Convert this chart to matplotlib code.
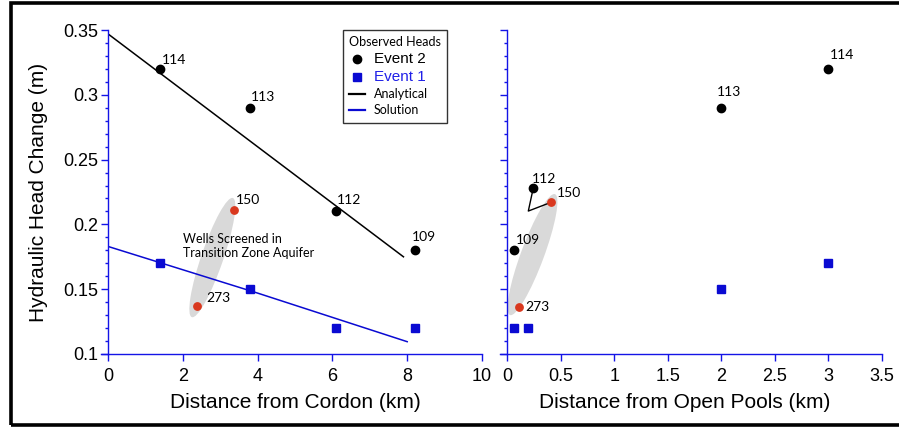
import matplotlib
matplotlib.use("Agg")
import matplotlib.pyplot as plt
from matplotlib.patches import Ellipse, Rectangle
from matplotlib.lines import Line2D
from matplotlib.transforms import ScaledTranslation
from matplotlib.ticker import MultipleLocator, FuncFormatter

# ---------------- data ----------------
wells_e2 = ["114", "113", "112", "109"]
tz_wells = ["150", "273"]

# Distance from Cordon panel
cordon_dist = [1.4, 3.8, 6.1, 8.2]
event2_cordon = [0.32, 0.29, 0.21, 0.18]
event1_cordon = [0.17, 0.15, 0.12, 0.12]
tz_cordon_dist = [3.37, 2.38]
tz_cordon_heads = [0.211, 0.137]
analytic_x = [0, 7.9]
analytic_y = [0.347, 0.175]
solution_x = [0, 4, 8]
solution_y = [0.183, 0.147, 0.1095]

# Distance from Open Pools panel
event2_pools_dist = [3.0, 2.0, 0.245, 0.065]
event2_pools = [0.32, 0.29, 0.228, 0.180]
event1_pools_dist = [3.0, 2.0, 0.2, 0.068]
event1_pools = [0.17, 0.15, 0.12, 0.12]
tz_pools_dist = [0.41, 0.109]
tz_pools_heads = [0.217, 0.1365]
leader_vertex = (0.199, 0.2103)

left_xticks = [0, 2, 4, 6, 8, 10]
right_xticks = [0, 0.5, 1, 1.5, 2, 2.5, 3, 3.5]
yticks = [0.1, 0.15, 0.2, 0.25, 0.3, 0.35]

# ---------------- style ----------------
BLUE_AX = "#1414e6"
BLUE = "#0a0ad2"
RED = "#d9381e"
GRAY = "#d9d9d9"
TICKFONT = "Liberation Sans"
SMALLFONT = "Lato"

W, H = 899, 429
fig = plt.figure(figsize=(W / 100, H / 100), dpi=100)

# figure border (left, top, bottom)
fig.add_artist(Rectangle((10.5 / W, 4 / H), 1.2, 422.5 / H, transform=fig.transFigure,
                         fill=False, edgecolor="black", linewidth=2.6, clip_on=False))

ax1 = fig.add_axes([108 / W, 75 / H, 374 / W, 324 / H])
ax2 = fig.add_axes([507 / W, 75 / H, 375 / W, 324 / H])

fmt = FuncFormatter(lambda v, p: "%g" % round(v, 3))
for ax, xt in ((ax1, left_xticks), (ax2, right_xticks)):
    ax.set_ylim(0.1, 0.35)
    ax.set_xlim(xt[0], xt[-1])
    ax.set_xticks(xt)
    ax.set_yticks(yticks)
    ax.yaxis.set_minor_locator(MultipleLocator(0.01))
    ax.xaxis.set_major_formatter(fmt)
    ax.yaxis.set_major_formatter(fmt)
    for s in ("top", "right"):
        ax.spines[s].set_visible(False)
    for s in ("left", "bottom"):
        ax.spines[s].set_color(BLUE_AX)
        ax.spines[s].set_linewidth(1.0)
    ax.tick_params(which="major", direction="out", length=5, width=1, color=BLUE_AX,
                   labelsize=13, labelcolor="black")
    ax.tick_params(axis="x", pad=5)
    ax.tick_params(axis="y", pad=2)
    ax.tick_params(which="minor", direction="out", length=2.5, width=1, color=BLUE_AX)
    for lab in ax.get_xticklabels() + ax.get_yticklabels():
        lab.set_fontfamily(TICKFONT)
    ax.patch.set_alpha(0)

ax1.spines["bottom"].set_bounds(-0.187, 10)
ax2.spines["bottom"].set_bounds(-0.065, 3.5)
ax2.tick_params(axis="y", labelleft=False)

def ellipse(ax, cx, cy, w_in, h_in, ang):
    tr = fig.dpi_scale_trans + ScaledTranslation(cx, cy, ax.transData)
    e = Ellipse((0, 0), w_in, h_in, angle=ang, transform=tr, facecolor=GRAY,
                edgecolor="none", zorder=1)
    ax.add_patch(e)

def label(ax, x, y, txt, dx, dy, va="bottom"):
    ax.annotate(txt, (x, y), xytext=(dx * 0.72, dy * 0.72), textcoords="offset points",
                ha="left", va=va, fontsize=10, family=SMALLFONT, color="black", zorder=5)

# ---------------- left panel ----------------
ellipse(ax1, 2.79, 0.1744, 1.26, 0.22, 71)
ax1.plot(analytic_x, analytic_y, color="black", lw=1.1, zorder=2)
ax1.plot(solution_x, solution_y, color=BLUE, lw=1.1, zorder=2)
ax1.plot(cordon_dist, event2_cordon, "o", color="black", ms=6, zorder=3, clip_on=False)
ax1.plot(cordon_dist, event1_cordon, "s", color=BLUE, ms=6.3, zorder=3, clip_on=False)
ax1.plot(tz_cordon_dist, tz_cordon_heads, "o", color=RED, ms=5.3, zorder=3)

left_off = [(1, 3), (1, 4.5), (1, 5), (-3, 7.5)]
for x, y, t, (dx, dy) in zip(cordon_dist, event2_cordon, wells_e2, left_off):
    label(ax1, x, y, t, dx, dy)
label(ax1, tz_cordon_dist[0], tz_cordon_heads[0], tz_wells[0], 2, 4)
label(ax1, tz_cordon_dist[1], tz_cordon_heads[1], tz_wells[1], 9.5, 8.5, va="center")

ax1.text(2.0, 0.1833, "Wells Screened in\nTransition Zone Aquifer", fontsize=9,
         family=SMALLFONT, ha="left", va="center", linespacing=1.2, zorder=5)

ax1.set_xlabel("Distance from Cordon (km)", fontsize=15, family=TICKFONT, labelpad=6)
ax1.set_ylabel("Hydraulic Head Change (m)", fontsize=15, family=TICKFONT, labelpad=11)

# legend
handles = [
    Line2D([], [], marker="o", ls="none", color="black", ms=6),
    Line2D([], [], marker="s", ls="none", color=BLUE, ms=6.3),
    Line2D([], [], color="black", lw=1.6),
    Line2D([], [], color=BLUE, lw=1.6),
]
labels = ["Event 2", "Event 1", "Analytical", "Solution"]
leg = ax1.legend(handles, labels, title="Observed Heads", loc="upper left",
                 bbox_to_anchor=(0.628, 1.0), frameon=True, fancybox=False,
                 edgecolor="black", fontsize=9, handlelength=1.3, handletextpad=0.7,
                 labelspacing=0.32, borderpad=0.5, borderaxespad=0,
                 title_fontproperties={"family": SMALLFONT, "size": 9})
leg.get_frame().set_linewidth(1.0)
leg._legend_box.align = "left"
txts = leg.get_texts()
for t in txts[:2]:
    t.set_fontfamily(TICKFONT)
    t.set_fontsize(11)
for t in txts[2:]:
    t.set_fontfamily(SMALLFONT)
    t.set_fontsize(9)
txts[1].set_color("#2020e8")

# ---------------- right panel ----------------
ellipse(ax2, 0.238, 0.1767, 1.29, 0.23, 69.6)
ax2.plot([event2_pools_dist[2], leader_vertex[0], tz_pools_dist[0]],
         [event2_pools[2], leader_vertex[1], tz_pools_heads[0]], color="black", lw=1.0, zorder=2)
ax2.plot(event2_pools_dist, event2_pools, "o", color="black", ms=6, zorder=3)
ax2.plot(event1_pools_dist, event1_pools, "s", color=BLUE, ms=6.3, zorder=3)
ax2.plot(tz_pools_dist, tz_pools_heads, "o", color=RED, ms=5.3, zorder=3)

right_off = [(1, 7.7), (-4, 9.4), (-1.6, 3.4), (1.4, 4.3)]
for x, y, t, (dx, dy) in zip(event2_pools_dist, event2_pools, wells_e2, right_off):
    label(ax2, x, y, t, dx, dy)
label(ax2, tz_pools_dist[0], tz_pools_heads[0], tz_wells[0], 5.7, 3)
label(ax2, tz_pools_dist[1], tz_pools_heads[1], tz_wells[1], 6.7, 0, va="center")

ax2.set_xlabel("Distance from Open Pools (km)", fontsize=15, family=TICKFONT)
ax2.xaxis.set_label_coords((685 - 507) / 375, -0.12)

fig.savefig("out.png", dpi=100)
